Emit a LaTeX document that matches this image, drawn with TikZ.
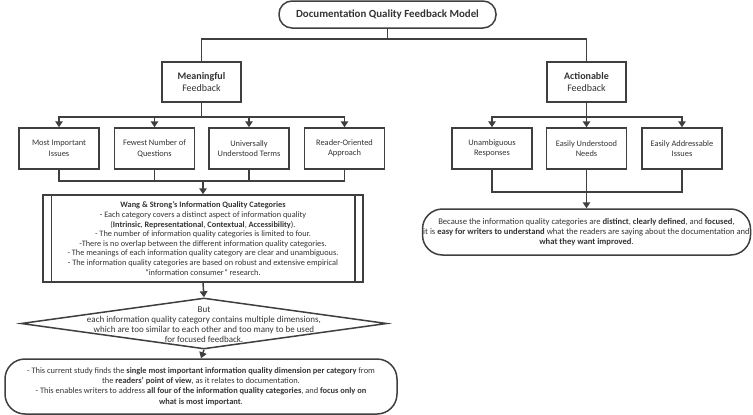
\documentclass[tikz,border=0pt]{standalone}
\usepackage{fontspec}
\setmainfont{Carlito}
\usetikzlibrary{shapes.geometric,arrows.meta}
\definecolor{ln}{HTML}{3F3F3F}
\definecolor{tx}{HTML}{333333}
\begin{document}
\begin{tikzpicture}[x=1pt,y=-1pt,
  every node/.style={text=tx,font=\fontsize{8.3}{9.6}\selectfont},
  box/.style={draw=ln,line width=1.5pt,align=center,inner sep=0pt},
  sbox/.style={box,minimum width=80pt,minimum height=41pt,font=\fontsize{8.4}{10.5}\selectfont},
  hbox/.style={box,minimum width=79pt,minimum height=40pt,font=\fontsize{10}{12}\selectfont},
  conn/.style={draw=ln,line width=1.5pt},
  arr/.style={conn,-{Triangle[length=6pt,width=7.5pt]}}]
\useasboundingbox (0,0) rectangle (753,415);
% nodes
\node[box,rounded corners=13pt,minimum width=217pt,minimum height=27pt,font=\fontsize{10.9}{13}\selectfont\bfseries] (title) at (387.5,14.5) {Documentation Quality Feedback Model};
\node[hbox] (mean) at (201.5,82) {\textbf{Meaningful}\\Feedback};
\node[hbox] (act) at (586.5,82) {\textbf{Actionable}\\Feedback};
\node[sbox] (b1) at (59,148.5) {Most Important\\Issues};
\node[sbox] (b2) at (154.5,148.5) {Fewest Number of\\Questions};
\node[sbox] (b3) at (249,148.5) {Universally\\Understood Terms};
\node[sbox] (b4) at (344.5,148.5) {Reader-Oriented\\Approach};
\node[sbox] (r1) at (492,148.5) {Unambiguous\\Responses};
\node[sbox] (r2) at (586.5,148.5) {Easily Understood\\Needs};
\node[sbox] (r3) at (682,148.5) {Easily Addressable\\Issues};
\node[box,minimum width=320pt,minimum height=87pt] (wang) at (203,238.5) {\textbf{Wang \& Strong’s Information Quality Categories}\\
- Each category covers a distinct aspect of information quality\\
(\textbf{Intrinsic}, \textbf{Representational}, \textbf{Contextual}, \textbf{Accessibility}).\\
- The number of information quality categories is limited to four.\\
-There is no overlap between the different information quality categories.\\
- The meanings of each information quality category are clear and unambiguous.\\
- The information quality categories are based on robust and extensive empirical\\
“information consumer” research.};
\draw[conn] ([xshift=9pt]wang.north west) -- ([xshift=9pt]wang.south west);
\draw[conn] ([xshift=-9pt]wang.north east) -- ([xshift=-9pt]wang.south east);
\node[draw=ln,line width=1.5pt,diamond,minimum width=366pt,minimum height=51pt,inner sep=0pt] (dia) at (204,323.5) {};
\node[align=center,inner sep=0pt,font=\fontsize{9}{10.2}\selectfont] (diatext) at (204,324.5) {But\\each information quality category contains multiple dimensions,\\which are too similar to each other and too many to be used\\for focused feedback.};
\node[box,rounded corners=20pt,minimum width=392pt,minimum height=55pt,font=\fontsize{8.4}{10.4}\selectfont] (bot) at (201,386.5) {- This current study finds the \textbf{single most important information quality dimension per category} from\\
the \textbf{readers’ point of view}, as it relates to documentation.\\
- This enables writers to address \textbf{all four of the information quality categories}, and \textbf{focus only on}\\
\textbf{what is most important}.};
\node[box,rounded corners=20pt,minimum width=328pt,minimum height=46pt,font=\fontsize{8.6}{10.2}\selectfont] (rbox) at (586.5,232) {Because the information quality categories are \textbf{distinct}, \textbf{clearly defined}, and \textbf{focused},\\
it is \textbf{easy for writers to understand} what the readers are saying about the documentation and\\
\textbf{what they want improved}.};
% connectors
\coordinate (tj) at (387.5,39);
\draw[conn] (title.south) -- (tj);
\draw[conn] (mean.north) |- (tj) -| (act.north);
\coordinate (mj) at (201.5,117);
\draw[conn] (mean.south) -- (mj);
\foreach \b in {b1,b2,b3,b4} \draw[arr] (mj) -| (\b.north);
\coordinate (aj) at (586.5,117);
\draw[conn] (act.south) -- (aj);
\foreach \b in {r1,r2,r3} \draw[arr] (aj) -| (\b.north);
\coordinate (bj) at (203,181);
\foreach \b in {b1,b2,b3,b4} \draw[conn] (\b.south) |- (bj);
\draw[arr] (bj) -- (wang.north);
\draw[arr] (wang.south) -- (dia.north);
\draw[arr] (dia.south) -- (bot.north);
\coordinate (rj) at (586.5,192);
\draw[conn] (r1.south) |- (rj) -| (r3.south);
\draw[arr] (r2.south) -- (rbox.north);
\end{tikzpicture}
\end{document}
